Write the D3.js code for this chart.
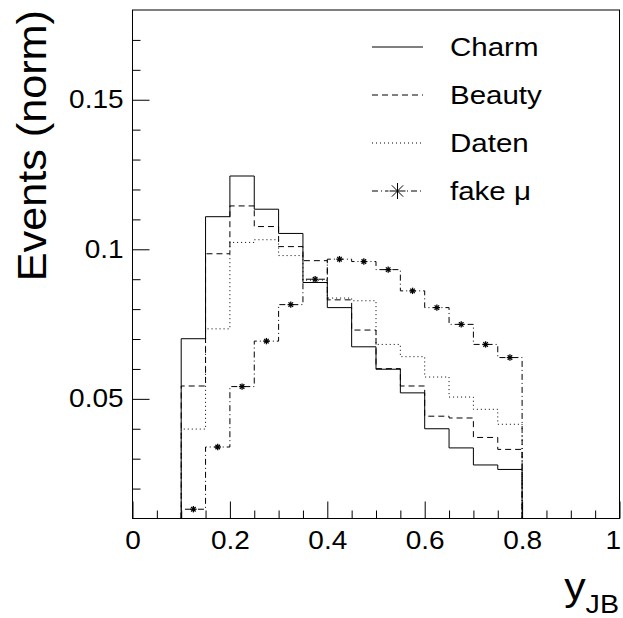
<!DOCTYPE html>
<html>
<head>
<meta charset="utf-8">
<title>y_JB</title>
<script src="https://d3js.org/d3.v7.min.js"></script>
<style>
	body { margin: 0; background: #fff; }
	svg { display: block; font-family: "Liberation Sans", Arial, Helvetica, sans-serif; }
	.axis path.domain { display: none; }
	.axis line { stroke: #000; stroke-width: 1; }
	.axis text { fill: #000; font-size: 25px; font-family: "Liberation Sans", Arial, sans-serif; }
	.hist { fill: none; stroke: #000; stroke-width: 1; }
</style>
</head>
<body>
<script>
// ---------------------------------------------------------------
// data (normalised, bins of 0.05 in y_JB)
// ---------------------------------------------------------------
var binEdges = [0.10, 0.15, 0.20, 0.25, 0.30, 0.35, 0.40, 0.45, 0.50, 0.55, 0.60, 0.65, 0.70, 0.75, 0.80];
var charm  = [0.0701, 0.1109, 0.1245, 0.1134, 0.1053, 0.0889, 0.0805, 0.0674, 0.0599, 0.0520, 0.0400, 0.0336, 0.0279, 0.0264];
var beauty = [0.0543, 0.0985, 0.1145, 0.1076, 0.1009, 0.0962, 0.0831, 0.0730, 0.0601, 0.0543, 0.0442, 0.0436, 0.0371, 0.0331];
var daten  = [0.0399, 0.0734, 0.1023, 0.1032, 0.0979, 0.0897, 0.0837, 0.0828, 0.0682, 0.0641, 0.0573, 0.0506, 0.0465, 0.0415];
var fakeMu = [0.0131, 0.0339, 0.0541, 0.0693, 0.0815, 0.0900, 0.0967, 0.0959, 0.0932, 0.0861, 0.0805, 0.0749, 0.0682, 0.0638];

var seriesNames = ["Charm", "Beauty", "Daten", "fake \u03bc"];

var xMajorTicks = [0, 0.2, 0.4, 0.6, 0.8, 1];
var xTickLabels = ["0", "0.2", "0.4", "0.6", "0.8", "1"];
var xMinorTicks = [0.05, 0.1, 0.15, 0.25, 0.3, 0.35, 0.45, 0.5, 0.55, 0.65, 0.7, 0.75, 0.85, 0.9, 0.95];
var yMajorTicks = [0.05, 0.1, 0.15];
var yTickLabels = ["0.05", "0.1", "0.15"];
var yMinorTicks = [0.02, 0.03, 0.04, 0.06, 0.07, 0.08, 0.09, 0.11, 0.12, 0.13, 0.14, 0.16, 0.17];

var xTitle = "y", xTitleSub = "JB";
var yTitle = "Events (norm)";

// ---------------------------------------------------------------
// layout
// ---------------------------------------------------------------
var W = 623, H = 618;
var frame = { left: 132.5, right: 619.5, top: 10, bottom: 518.5 };
var stretch = 1.12;   // text in the reference is a bit wider than normal

var svg = d3.select("body").append("svg").attr("width", W).attr("height", H);

var x = d3.scaleLinear().domain([0, 1]).range([frame.left, frame.right]);
var y = d3.scaleLinear().domain([0.01, 0.18]).range([frame.bottom, frame.top]);

// frame
svg.append("rect")
	.attr("x", frame.left).attr("y", frame.top)
	.attr("width", frame.right - frame.left).attr("height", frame.bottom - frame.top)
	.attr("fill", "none").attr("stroke", "#000").attr("stroke-width", 1);

// x axis, ticks pointing inward
var gx = svg.append("g").attr("class", "axis").attr("transform", "translate(0," + frame.bottom + ")");
gx.call(d3.axisBottom(x).tickValues(xMajorTicks).tickSize(-17).tickPadding(13)
	.tickFormat(function(d, i){ return xTickLabels[i]; }));
gx.selectAll("text").attr("transform", "scale(" + stretch + ",1)");
// last label would run off the canvas, nudge it in
gx.selectAll("text").filter(function(d){ return d == 1; }).attr("x", -6);
svg.append("g").attr("class", "axis").attr("transform", "translate(0," + frame.bottom + ")")
	.call(d3.axisBottom(x).tickValues(xMinorTicks).tickSize(-8).tickFormat(""));

// y axis
var gy = svg.append("g").attr("class", "axis").attr("transform", "translate(" + frame.left + ",0)");
gy.call(d3.axisLeft(y).tickValues(yMajorTicks).tickSize(-17).tickPadding(8)
	.tickFormat(function(d, i){ return yTickLabels[i]; }));
gy.selectAll("text").attr("transform", "scale(" + stretch + ",1)");
svg.append("g").attr("class", "axis").attr("transform", "translate(" + frame.left + ",0)")
	.call(d3.axisLeft(y).tickValues(yMinorTicks).tickSize(-8).tickFormat(""));

// ---------------------------------------------------------------
// histograms as step outlines
// ---------------------------------------------------------------
function stepPoints(vals){
	var pts = [[binEdges[0], 0.01]];
	vals.forEach(function(v, i){
		pts.push([binEdges[i], v]);
		pts.push([binEdges[i + 1], v]);
	});
	pts.push([binEdges[binEdges.length - 1], 0.01]);
	return pts;
}
var line = d3.line().x(function(p){ return x(p[0]); }).y(function(p){ return y(p[1]); });

var styles = [
	{ vals: charm,  dash: null },
	{ vals: beauty, dash: "6,4" },
	{ vals: daten,  dash: "1,3" },
	{ vals: fakeMu, dash: "6,3,1,3" }
];

var plotG = svg.append("g");
styles.forEach(function(s){
	plotG.append("path").attr("class", "hist")
		.attr("d", line(stepPoints(s.vals)))
		.attr("stroke-dasharray", s.dash);
});

// asterisk markers for fake mu at bin centres
function star(g, cx, cy, r, w){
	var a = r * 0.707;
	var segs = [[-r, 0, r, 0], [0, -r, 0, r], [-a, -a, a, a], [-a, a, a, -a]];
	segs.forEach(function(s){
		g.append("line")
			.attr("x1", cx + s[0]).attr("y1", cy + s[1])
			.attr("x2", cx + s[2]).attr("y2", cy + s[3])
			.attr("stroke", "#000").attr("stroke-width", w);
	});
}
fakeMu.forEach(function(v, i){
	var c = (binEdges[i] + binEdges[i + 1]) / 2;
	star(plotG, x(c), y(v), 3.2, 1.3);
});

// ---------------------------------------------------------------
// legend
// ---------------------------------------------------------------
var leg = { x1: 372, x2: 423, tx: 450, y0: 47, dy: 48 };
styles.forEach(function(s, i){
	var ly = leg.y0 + i * leg.dy;
	svg.append("line")
		.attr("x1", leg.x1).attr("x2", leg.x2).attr("y1", ly).attr("y2", ly)
		.attr("stroke", "#000").attr("stroke-width", 1)
		.attr("stroke-dasharray", s.dash);
	if (i == 3) {
		svg.append("rect").attr("x", (leg.x1 + leg.x2) / 2 - 9).attr("y", ly - 9)
			.attr("width", 18).attr("height", 18).attr("fill", "#fff");
		star(svg, (leg.x1 + leg.x2) / 2, ly, 8, 1);
	}
	svg.append("text")
		.attr("transform", "translate(" + leg.tx + "," + (ly + 9) + ") scale(1.18,1)")
		.style("font-size", "25px")
		.text(seriesNames[i]);
});

// ---------------------------------------------------------------
// axis titles
// ---------------------------------------------------------------
svg.append("text")
	.attr("transform", "translate(46,10) rotate(-90) scale(1.08,1)")
	.attr("text-anchor", "end")
	.style("font-size", "40px")
	.text(yTitle);

var xt = svg.append("text")
	.attr("transform", "translate(619,600) scale(1.1,1)")
	.attr("text-anchor", "end")
	.style("font-size", "39px");
xt.append("tspan").text(xTitle);
xt.append("tspan").attr("dy", 13).style("font-size", "26px").text(xTitleSub);
</script>
</body>
</html>
